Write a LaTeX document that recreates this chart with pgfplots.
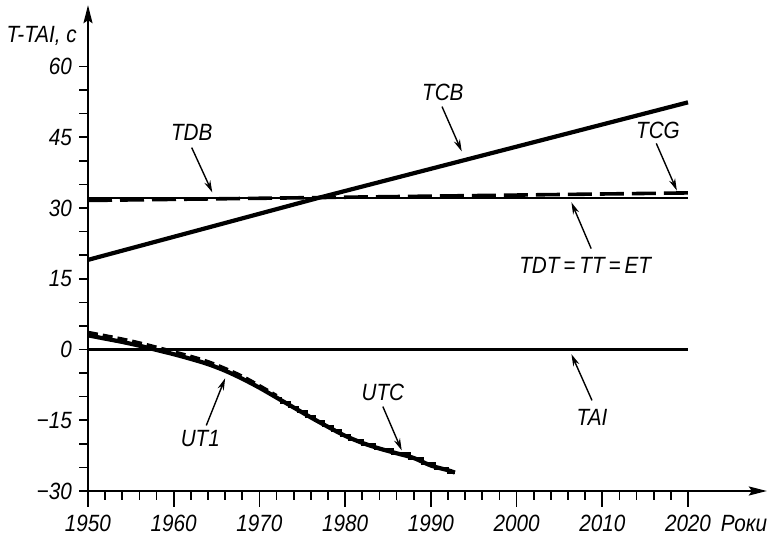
\documentclass[border=0pt]{standalone}
\usepackage{pgfplots}
\pgfplotsset{compat=1.18}
\usepackage{fontspec}
\setmainfont{Liberation Sans}[FakeStretch=0.88]
\usetikzlibrary{arrows.meta}
\begin{document}
\begin{tikzpicture}[font=\fontsize{23.5}{27}\selectfont\itshape,
  arr/.style={line width=1.4pt, -{Stealth[length=12pt,width=6.5pt]}}]
\begin{axis}[
  x=8.5714pt, y=4.7167pt,
  xmin=1950, xmax=2029.2, ymin=-30, ymax=73,
  axis lines=left,
  axis line style={line width=2pt, -{Stealth[length=18pt,width=9pt,inset=3pt]}},
  xtick={1950,1960,...,2020},
  xticklabels={1950,1960,1970,1980,1990,2000,2010,2020},
  minor xtick={1952,1954,...,2018},
  ytick={-30,-15,0,15,30,45,60},
  yticklabels={−30,−15,0,15,30,45,60},
  minor ytick={-25,-20,-10,-5,5,10,20,25,35,40,50,55},
  tick align=outside,
  major tick length=9pt, minor tick length=9pt,
  extra x ticks={1950,1960,...,2020}, extra x tick labels={},
  extra x tick style={major tick length=16pt},
  tick style={line width=1.6pt, black},
  xticklabel style={inner sep=0pt, anchor=north, yshift=-15pt},
  yticklabel style={inner sep=0pt, anchor=east, xshift=-7pt},
  clip=false,
]
% TAI
\addplot[line width=2.2pt, black] coordinates {(1950,0) (2020,0)};
% TDT = TT = ET and TDB
\addplot[line width=2.2pt, black] coordinates {(1950,32.18) (2020,32.18)};
% TCG
\addplot[line width=3.6pt, black, dash pattern=on 24pt off 8pt] coordinates {(1950,31.6) (2020,33.2)};
% TCB
\addplot[line width=4.2pt, black] coordinates {(1950,19.0) (1977,32.2) (2020,52.4)};
% UTC before 1972
\addplot[line width=3.6pt, black, dash pattern=on 10pt off 5pt, smooth] coordinates {
(1950,3.6) (1955,1.8) (1960,-0.5) (1964,-2.6) (1968,-5.7) (1972,-9.8)};
% UTC steps
\addplot[line width=2.6pt, black] coordinates {
(1972,-10.3) (1972.5,-10.3) (1972.5,-11.2) (1973.5,-11.2) (1973.5,-12.2) (1974.5,-12.2) (1974.5,-13.2)
(1975.5,-13.2) (1975.5,-14.2) (1976.5,-14.2) (1976.5,-15.2) (1977.5,-15.2) (1977.5,-16.2)
(1978.5,-16.2) (1978.5,-17.2) (1979.5,-17.2) (1979.5,-18.2) (1980.5,-18.2) (1980.5,-19.2)
(1982,-19.2) (1982,-20.2) (1983.5,-20.2) (1983.5,-21.1) (1985.5,-21.1) (1985.5,-22.1)
(1987.5,-22.1) (1987.5,-23.1) (1989,-23.1) (1989,-24.2) (1990.5,-24.2) (1990.5,-25.2)
(1992,-25.2) (1992,-26.1) (1992.8,-26.1)};
% UT1
\addplot[line width=4.2pt, black, smooth] coordinates {
(1950,3.0) (1952,2.3) (1954,1.6) (1956,0.8) (1958,-0.1) (1960,-1.0) (1962,-2.0)
(1964,-3.1) (1966,-4.5) (1968,-6.2) (1970,-8.1) (1972,-10.2) (1974,-12.3)
(1976,-14.4) (1978,-16.4) (1980,-18.3) (1982,-19.8) (1984,-21.0) (1986,-22.0)
(1988,-23.0) (1990,-24.6) (1992,-25.6) (1992.8,-26.1)};
% annotations
\node at (axis cs:1962.1,46.0) {TDB};
\draw[arr] (axis cs:1962.1,42.8) -- (axis cs:1964.5,33.3);
\node at (axis cs:1991.4,54.5) {TCB};
\draw[arr] (axis cs:1991.3,51.5) -- (axis cs:1993.6,42.0);
\node at (axis cs:2016.5,46.4) {TCG};
\draw[arr] (axis cs:2016.3,43.7) -- (axis cs:2018.7,33.7);
\node at (axis cs:2008.0,17.8) {TDT\,=\,TT\,=\,ET};
\draw[arr] (axis cs:2008.7,21.4) -- (axis cs:2006.4,31.2);
\node at (axis cs:2008.8,-14.4) {TAI};
\draw[arr] (axis cs:2008.8,-10.8) -- (axis cs:2006.4,-1.0);
\node at (axis cs:1963.1,-18.9) {UT1};
\draw[arr] (axis cs:1963.8,-16.1) -- (axis cs:1966.0,-6.1);
\node at (axis cs:1984.4,-9.1) {UTC};
\draw[arr] (axis cs:1984.4,-12.1) -- (axis cs:1986.6,-21.4);
\node[anchor=east, inner sep=0pt] at ([xshift=-11pt]axis cs:1950,66.5) {T-TAI, с};
\node[anchor=north west, inner sep=0pt] at ([yshift=-24pt]axis cs:2023.8,-30) {Роки};
\coordinate (O) at (axis cs:1950,-30);
\end{axis}
\pgfresetboundingbox
\path ([xshift=-88pt,yshift=-46pt]O) rectangle ([xshift=680pt,yshift=491pt]O);
\end{tikzpicture}
\end{document}
